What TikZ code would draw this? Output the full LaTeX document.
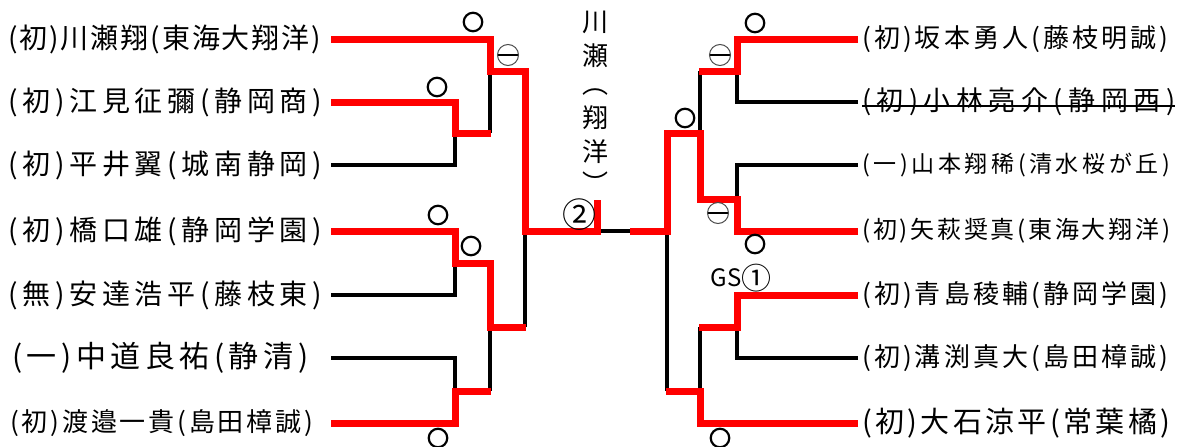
\documentclass[tikz,border=0pt]{standalone}
\usepackage{fontspec}
\setmainfont{Noto Sans CJK JP}
\makeatletter
\newcommand\spreadtxt[1]{\@tfor\sp@x:=#1\do{\sp@x\hskip0pt plus 1fil}\unskip}
\makeatother
\newcommand\lab[5]{\node[anchor=west,inner sep=0pt] (#1) at (#2) {\fontsize{#3}{#3}\selectfont\hbox to #4pt{\spreadtxt{#5}}};}
\tikzset{
  win/.style={draw={rgb,255:red,255;green,0;blue,0},line width=7pt,line join=miter},
  lose/.style={draw=black,line width=3.2pt,line join=miter},
  maru/.style={circle,draw=black,line width=2.2pt,minimum size=18.5pt,inner sep=0pt},
  maruminus/.style={circle,draw=black!70,line width=1pt,minimum size=21pt,inner sep=0pt,
    path picture={\draw[black,line width=2pt] (path picture bounding box.west) -- (path picture bounding box.east);}},
  vch/.style={inner sep=0pt,anchor=center,font=\fontsize{26}{26}\selectfont},
}
\begin{document}
\begin{tikzpicture}[x=1pt,y=-1pt]
\useasboundingbox (0,0) rectangle (1179,447);
% labels left
\lab{L1}{8,39}{28}{313}{(初)川瀬翔(東海大翔洋)}
\lab{L2}{8,102}{28}{314}{(初)江見征彌(静岡商)}
\lab{L3}{8,165}{28}{314}{(初)平井翼(城南静岡)}
\lab{L4}{8,231}{28}{314}{(初)橋口雄(静岡学園)}
\lab{L5}{8,295}{28}{314}{(無)安達浩平(藤枝東)}
\lab{L6}{12,358}{30}{296}{(一)中道良祐(静清)}
\lab{L7}{10,423}{26}{303}{(初)渡邉一貴(島田樟誠)}
% labels right
\lab{R1}{862,39}{26}{306}{(初)坂本勇人(藤枝明誠)}
\lab{R2}{862,102}{27}{313}{(初)小林亮介(静岡西)}
\lab{R3}{862,165}{23}{308}{(一)山本翔稀(清水桜が丘)}
\lab{R4}{862,231}{24}{308}{(初)矢萩奨真(東海大翔洋)}
\lab{R5}{862,295}{26}{306}{(初)青島稜輔(静岡学園)}
\lab{R6}{862,358}{26}{306}{(初)溝渕真大(島田樟誠)}
\lab{R7}{862,423}{29}{308}{(初)大石涼平(常葉橘)}
\draw[line width=2pt] (R2.west |- 0,106) -- (1175,106);
% coordinates
\foreach \i/\y in {1/39,2/102,3/165,4/231,5/295,6/358,7/423}{
  \coordinate (A\i) at (331,\y);
  \coordinate (B\i) at (858,\y);
}
\coordinate (fl) at (597,231);
\coordinate (fr) at (630,231);
% black lines left
\draw[lose] (A3) -- (455,165) -- (455,133);
\draw[lose] (A5) -- (455,295) -- (455,263);
\draw[lose] (A6) -- (455,358) -- (455,391);
\draw[lose] (490,71) -- (490,133);
\draw[lose] (490,327) -- (490,391);
\draw[lose] (525,231) -- (525,327);
\draw[lose] (fl) -- (fr);
% black lines right
\draw[lose] (B2) -- (737,102) -- (737,71);
\draw[lose] (B3) -- (737,165) -- (737,199);
\draw[lose] (B6) -- (737,358) -- (737,327);
\draw[lose] (700,71) -- (700,133);
\draw[lose] (700,327) -- (700,391);
\draw[lose] (667,231) -- (667,391);
% red lines left
\draw[win] (A1) -- (490,39) -- (490,71) -- (525,71) -- (525,231) -- (fl) -- (597,200);
\draw[win] (A2) -- (455,102) -- (455,133) -- (491,133);
\draw[win] (A4) -- (455,231) -- (455,263) -- (490,263) -- (490,327) -- (526,327);
\draw[win] (A7) -- (455,423) -- (455,391) -- (491,391);
% red lines right
\draw[win] (B1) -- (737,39) -- (737,71) -- (699,71);
\draw[win] (B4) -- (737,231) -- (737,199) -- (700,199) -- (700,133) -- (667,133) -- (667,231) -- (fr);
\draw[win] (B5) -- (737,295) -- (737,327) -- (699,327);
\draw[win] (B7) -- (700,423) -- (700,391) -- (666,391);
% marks
\node[maru] (m1) at (473,22) {};
\node[maruminus] (m2) at (508,55) {};
\node[maru] (m3) at (437,87) {};
\node[maru] (m4) at (438,215) {};
\node[maru] (m5) at (471,246) {};
\node[maru] (m6) at (438,438) {};
\node[maru] (m7) at (755,23) {};
\node[maruminus] (m8) at (720,55) {};
\node[maru] (m9) at (685,118) {};
\node[maruminus] (m10) at (718,213) {};
\node[maru] (m11) at (755,244) {};
\node[maru] (m12) at (720,438) {};
\node[inner sep=0pt,font=\fontsize{34}{34}\selectfont] (two) at (579,215) {②};
\node[inner sep=0pt,anchor=east,font=\fontsize{24}{24}\selectfont] (gs) at (742,278) {GS};
\node[inner sep=0pt,anchor=west,font=\fontsize{30}{30}\selectfont] (one) at (741,278) {①};
% vertical text
\node[vch] (v1) at (595,22.5) {川};
\node[vch] (v2) at (595,56) {瀬};
\node[vch] (v3) at (595,92) {︵};
\node[vch] (v4) at (595,118) {翔};
\node[vch] (v5) at (595,152) {洋};
\node[vch] (v6) at (595,183) {︶};
\end{tikzpicture}
\end{document}
